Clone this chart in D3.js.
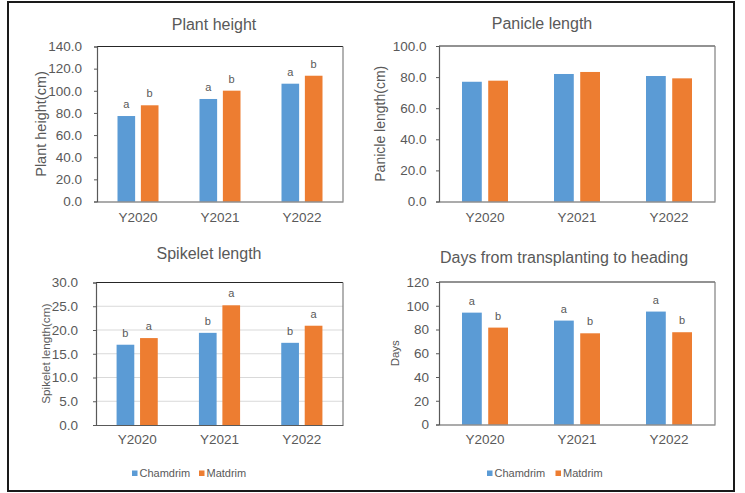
<!DOCTYPE html>
<html>
<head>
<meta charset="utf-8">
<script src="https://cdn.jsdelivr.net/npm/d3@7"></script>
<style>
  html, body { margin: 0; padding: 0; background: #fff; }
  svg { display: block; font-family: "Liberation Sans", Arial, sans-serif; }
</style>
</head>
<body>
<svg id="chart" width="745" height="493"></svg>
<script>
// ---- data ----
const categories = ["Y2020", "Y2021", "Y2022"];
const seriesNames = ["Chamdrim", "Matdrim"];

const heightChamdrim = [77.2, 92.6, 106.4];
const heightMatdrim = [86.9, 100.1, 113.6];
const heightLettersChamdrim = ["a", "a", "a"];
const heightLettersMatdrim = ["b", "b", "b"];
const heightTicks = [0, 20, 40, 60, 80, 100, 120, 140];

const panicleChamdrim = [77.0, 82.0, 80.7];
const panicleMatdrim = [77.7, 83.3, 79.2];
const panicleTicks = [0, 20, 40, 60, 80, 100];

const spikeletChamdrim = [16.9, 19.4, 17.3];
const spikeletMatdrim = [18.3, 25.2, 20.9];
const spikeletLettersChamdrim = ["b", "b", "b"];
const spikeletLettersMatdrim = ["a", "a", "a"];
const spikeletTicks = [0, 5, 10, 15, 20, 25, 30];

const daysChamdrim = [94.2, 87.5, 95.1];
const daysMatdrim = [81.6, 76.8, 77.7];
const daysLettersChamdrim = ["a", "a", "a"];
const daysLettersMatdrim = ["b", "b", "b"];
const daysTicks = [0, 20, 40, 60, 80, 100, 120];

// ---- style ----
const colors = ["#5B9BD5", "#ED7D31"];
const textColor = "#595959";
const svg = d3.select("#chart");

// outer frame
svg.append("rect").attr("x", 8).attr("y", 2).attr("width", 726).attr("height", 489)
  .attr("fill", "none").attr("stroke", "#1a1a1a").attr("stroke-width", 2);

const panels = [
  { title: "Plant height", titleX: 214, titleY: 30, ytitle: "Plant height(cm)", ytitleX: 41, ytitleSize: 14.5,
    x0: 97, x1: 343, y0: 46.5, y1: 201.5, max: 140, ticks: heightTicks, fmt: d3.format(".1f"),
    vals: [heightChamdrim, heightMatdrim], letters: [heightLettersChamdrim, heightLettersMatdrim],
    grid: false, xlabY: 221.5, tickGap: 12 },
  { title: "Panicle length", titleX: 542, titleY: 29, ytitle: "Panicle length(cm)", ytitleX: 380, ytitleSize: 14,
    x0: 439, x1: 715, y0: 46, y1: 201.5, max: 100, ticks: panicleTicks, fmt: d3.format(".1f"),
    vals: [panicleChamdrim, panicleMatdrim], letters: null,
    grid: false, xlabY: 221.5, tickGap: 9.5 },
  { title: "Spikelet length", titleX: 209, titleY: 259, ytitle: "Spikelet length(cm)", ytitleX: 46, ytitleSize: 11.7,
    x0: 96, x1: 343, y0: 282.5, y1: 425, max: 30, ticks: spikeletTicks, fmt: d3.format(".1f"),
    vals: [spikeletChamdrim, spikeletMatdrim], letters: [spikeletLettersChamdrim, spikeletLettersMatdrim],
    grid: true, xlabY: 444.3, tickGap: 15, legendX: [132, 199] },
  { title: "Days from transplanting to heading", titleX: 564, titleY: 263, ytitle: "Days", ytitleX: 395, ytitleSize: 11.5,
    x0: 439, x1: 715, y0: 282, y1: 424.5, max: 120, ticks: daysTicks, fmt: d3.format("d"),
    vals: [daysChamdrim, daysMatdrim], letters: [daysLettersChamdrim, daysLettersMatdrim],
    grid: false, xlabY: 444.3, tickGap: 7, legendX: [487, 555.5] }
];

panels.forEach(p => {
  const g = svg.append("g");
  const x = d3.scaleBand().domain(categories).range([p.x0, p.x1]).paddingInner(0).paddingOuter(0);
  const y = d3.scaleLinear().domain([0, p.max]).range([p.y1, p.y0]);
  const bw = x.bandwidth();
  const barW = bw * 0.215, gap = bw * 0.07;
  const groupW = barW * 2 + gap;

  // gridlines
  if (p.grid) {
    g.append("g").selectAll("line").data(p.ticks.filter(t => t > 0 && t < p.max)).join("line")
      .attr("x1", p.x0).attr("x2", p.x1)
      .attr("y1", d => y(d)).attr("y2", d => y(d))
      .attr("stroke", "#d9d9d9").attr("stroke-width", 1);
  }

  // bars
  p.vals.forEach((vals, si) => {
    g.append("g").selectAll("rect").data(vals).join("rect")
      .attr("x", (d, i) => x(categories[i]) + bw / 2 - groupW / 2 + si * (barW + gap))
      .attr("y", d => y(d))
      .attr("width", barW)
      .attr("height", d => y(0) - y(d))
      .attr("fill", colors[si]);
    if (p.letters) {
      g.append("g").selectAll("text").data(p.letters[si]).join("text")
        .attr("x", (d, i) => x(categories[i]) + bw / 2 - groupW / 2 + si * (barW + gap) + barW / 2)
        .attr("y", (d, i) => y(vals[i]) - 8)
        .attr("text-anchor", "middle")
        .attr("font-size", 11).attr("fill", textColor)
        .text(d => d);
    }
  });

  // frame top & right
  g.append("line").attr("x1", p.x0).attr("x2", p.x1).attr("y1", p.y0).attr("y2", p.y0)
    .attr("stroke", "#262626").attr("stroke-width", 1.2);
  g.append("line").attr("x1", p.x1).attr("x2", p.x1).attr("y1", p.y0).attr("y2", p.y1)
    .attr("stroke", "#7f7f7f").attr("stroke-width", 1.2);

  // y axis
  const yAxis = d3.axisLeft(y).tickValues(p.ticks).tickFormat(p.fmt).tickSize(3).tickPadding(p.tickGap);
  const ya = g.append("g").attr("transform", `translate(${p.x0},0)`).call(yAxis);
  ya.select(".domain").attr("stroke", "#595959").attr("stroke-width", 1.2);
  ya.selectAll(".tick line").attr("stroke", "#595959");
  ya.selectAll(".tick text").attr("fill", textColor).attr("font-size", 13.5)
    .attr("font-family", "Liberation Sans, Arial, sans-serif");

  // x axis
  const xAxis = d3.axisBottom(x).tickSize(0).tickPadding(0);
  const xa = g.append("g").attr("transform", `translate(0,${p.y1})`).call(xAxis);
  xa.select(".domain").attr("stroke", "#595959").attr("stroke-width", 1.2);
  xa.selectAll(".tick text").attr("fill", textColor).attr("font-size", 13.5)
    .attr("font-family", "Liberation Sans, Arial, sans-serif")
    .attr("dy", null).attr("y", p.xlabY - p.y1);

  // title
  g.append("text").attr("x", p.titleX).attr("y", p.titleY).attr("text-anchor", "middle")
    .attr("font-size", 16).attr("fill", textColor).text(p.title);

  // y title
  g.append("text")
    .attr("transform", `translate(${p.ytitleX},${(p.y0 + p.y1) / 2}) rotate(-90)`)
    .attr("text-anchor", "middle").attr("dy", "0.35em")
    .attr("font-size", p.ytitleSize).attr("fill", textColor).text(p.ytitle);

  // legend
  if (p.legendX) {
    const lg = g.append("g");
    seriesNames.forEach((name, si) => {
      lg.append("rect").attr("x", p.legendX[si]).attr("y", 470.5).attr("width", 5.5).attr("height", 5.5)
        .attr("fill", colors[si]);
      lg.append("text").attr("x", p.legendX[si] + 7.5).attr("y", 477)
        .attr("font-size", 11).attr("fill", textColor).text(name);
    });
  }
});
</script>
</body>
</html>
